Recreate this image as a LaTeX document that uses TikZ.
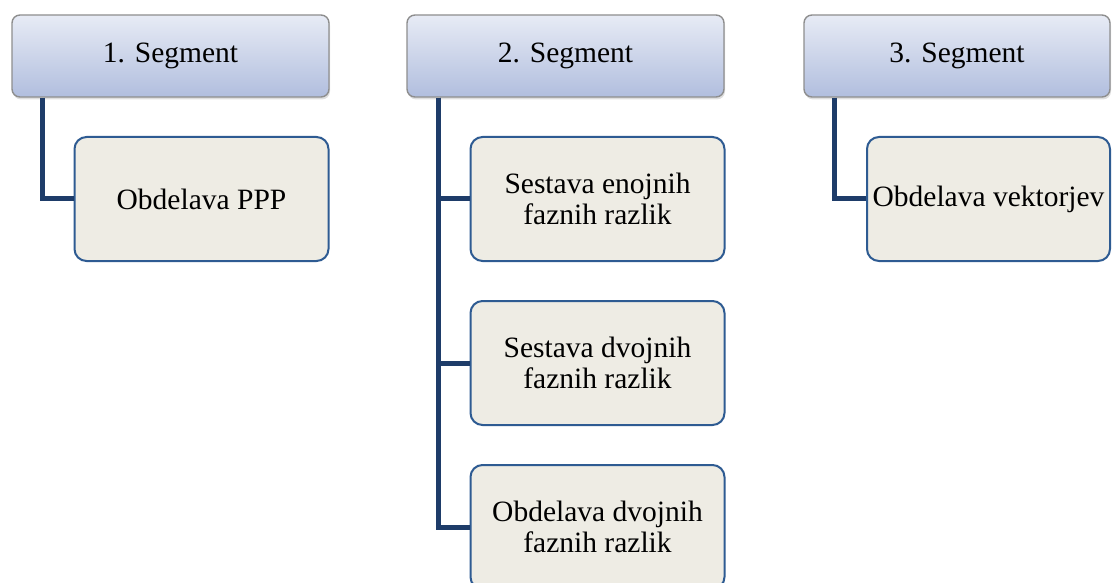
\documentclass[tikz,border=0pt]{standalone}
\usepackage{fontspec}
\setmainfont{Liberation Serif}
\usetikzlibrary{shadows}
\definecolor{segtop}{HTML}{E7EBF5}
\definecolor{segbot}{HTML}{B1BEDE}
\definecolor{segline}{HTML}{8E8E8E}
\definecolor{taskfill}{HTML}{EEECE4}
\definecolor{taskline}{HTML}{2E5B92}
\definecolor{branchcol}{HTML}{1E3C69}

\begin{document}
\begin{tikzpicture}[x=1pt,y=-1pt,
		segment/.style={draw=segline,line width=1.4pt,rounded corners=8pt,
			top color=segtop,bottom color=segbot,
			minimum width=317pt,minimum height=82pt,inner sep=0pt,
			font=\fontsize{29.5}{31}\selectfont,
			drop shadow={opacity=0.25,shadow xshift=1pt,shadow yshift=-2.5pt}},
		task/.style={draw=taskline,line width=2pt,rounded corners=12pt,fill=taskfill,
			minimum width=254pt,minimum height=124pt,inner sep=0pt,align=center,
			font=\fontsize{29.5}{31}\selectfont},
		branch/.style={draw=branchcol,line width=5pt}]
		\useasboundingbox (0,0) rectangle (1112,583);
		\node[segment] (seg1) at (170.5,56) {1. Segment};
		\node[segment] (seg2) at (565.5,56) {2. Segment};
		\node[segment,minimum width=306pt] (seg3) at (957,56) {3. Segment};
		\node[task] (ppp) at (201.5,199) {Obdelava PPP};
		\node[task] (enoj) at (597.5,199) {Sestava enojnih\\faznih razlik};
		\node[task] (dvoj) at (597.5,363) {Sestava dvojnih\\faznih razlik};
		\node[task] (obdv) at (597.5,527) {Obdelava dvojnih\\faznih razlik};
		\node[task,minimum width=243pt] (vekt) at (988.5,199) {Obdelava vektorjev};
		\draw[branch] ([xshift=31pt]seg1.south west) |- (ppp.west);
		\draw[branch] ([xshift=32pt]seg2.south west) |- (enoj.west);
		\draw[branch] ([xshift=32pt]seg2.south west) |- (dvoj.west);
		\draw[branch] ([xshift=32pt]seg2.south west) |- (obdv.west);
		\draw[branch] ([xshift=31pt]seg3.south west) |- (vekt.west);
\end{tikzpicture}
\end{document}
